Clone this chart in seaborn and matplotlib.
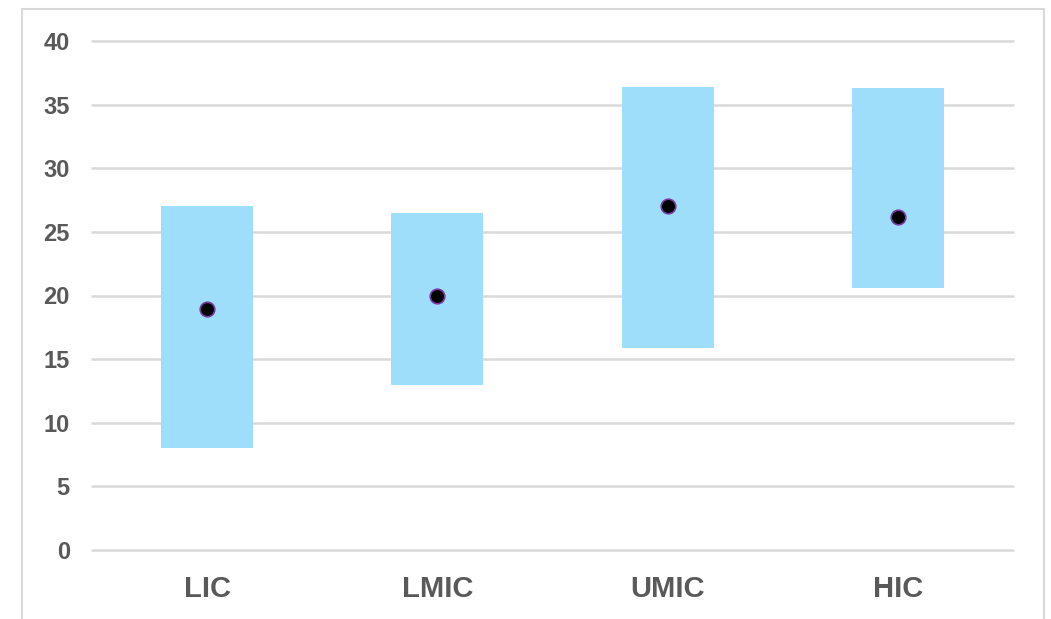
import matplotlib
matplotlib.use("Agg")
import matplotlib.pyplot as plt
import matplotlib.patches as mpatches
import numpy as np
import pandas as pd
import seaborn as sns

categories = ["LIC", "LMIC", "UMIC", "HIC"]
low_values = [8.0, 13.0, 15.9, 20.6]
high_values = [27.0, 26.5, 36.4, 36.3]
mid_values = [18.9, 20.0, 27.0, 26.2]
y_ticks = [0, 5, 10, 15, 20, 25, 30, 35, 40]

df = pd.DataFrame({
    "cat": categories,
    "low": low_values,
    "high": high_values,
    "mid": mid_values,
})
df["span"] = df["high"] - df["low"]

sns.set_theme(style="white")
plt.rcParams["font.family"] = ["Liberation Sans", "DejaVu Sans"]

fig = plt.figure(figsize=(10.51, 6.19), dpi=100)
ax = fig.add_axes([92/1051, 1 - 550/619, (1013-92)/1051, (550-41)/619])

sns.barplot(data=df, x="cat", y="span", bottom=df["low"].values, ax=ax,
            color="#9fdefa", saturation=1, width=0.4, order=categories,
            edgecolor="none", linewidth=0, zorder=2)
sns.scatterplot(data=df, x="cat", y="mid", ax=ax, color="black",
                edgecolor="#7a3aa8", linewidth=1.2, s=110, zorder=3)

ax.set_ylim(0, 40)
ax.set_xlim(-0.5, 3.5)
ax.set_yticks(y_ticks)
ax.set_yticklabels([str(t) for t in y_ticks])
ax.yaxis.grid(True, color="#d9d9d9", linewidth=1.8, zorder=0)
ax.set_axisbelow(True)
ax.xaxis.grid(False)
for gl in ax.get_ygridlines():
    gl.set_clip_on(False)
for s in ax.spines.values():
    s.set_visible(False)
ax.tick_params(axis="both", length=0)
ax.tick_params(axis="y", pad=16, labelsize=17, labelcolor="#595959")
ax.tick_params(axis="x", pad=18, labelsize=21, labelcolor="#595959")
for lab in ax.get_xticklabels() + ax.get_yticklabels():
    lab.set_fontweight("bold")
ax.set_xlabel("")
ax.set_ylabel("")

frame = mpatches.Rectangle((22/1051, -0.1), (1044-22)/1051, 1 - 9/619 + 0.1,
                           transform=fig.transFigure, fill=False,
                           edgecolor="#d9d9d9", linewidth=1.5, clip_on=False)
fig.patches.append(frame)

fig.savefig("out.png", dpi=100)
